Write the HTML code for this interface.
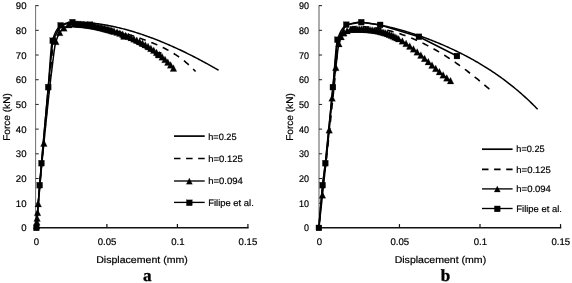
<!DOCTYPE html>
<html><head><meta charset="utf-8"><title>Force-displacement</title>
<style>
html,body{margin:0;padding:0;background:#fff;}
body{width:572px;height:283px;overflow:hidden;font-family:"Liberation Sans",sans-serif;}
svg{display:block;font-family:"Liberation Sans",sans-serif;will-change:transform;}
</style></head><body>
<svg width="572" height="283" viewBox="0 0 572 283" text-rendering="geometricPrecision">
<rect width="572" height="283" fill="#fff"/>
<path d="M35.60 5.15 V227.90" stroke="#707070" stroke-width="1.0" fill="none"/>
<g stroke="#222" stroke-width="1" fill="none">
<path d="M35.60 203.21 H38.70"/>
<path d="M35.60 178.51 H38.70"/>
<path d="M35.60 153.81 H38.70"/>
<path d="M35.60 129.12 H38.70"/>
<path d="M35.60 104.43 H38.70"/>
<path d="M35.60 79.73 H38.70"/>
<path d="M35.60 55.03 H38.70"/>
<path d="M35.60 30.34 H38.70"/>
<path d="M35.60 5.65 H38.70"/>
</g>
<g stroke="#111" fill="none">
<path d="M35.00 227.7 H248.60" stroke-width="1.6"/>
<path d="M106.90 227.7 V224.1" stroke-width="1.2"/>
<path d="M177.40 227.7 V224.1" stroke-width="1.2"/>
<path d="M247.90 227.7 V224.1" stroke-width="1.2"/>
</g>
<g fill="#000" stroke="#000" stroke-width="0.2">
<text transform="translate(26.50 231.40)" font-size="9.6" text-anchor="end">0</text>
<text transform="translate(26.50 206.71)" font-size="9.6" text-anchor="end">10</text>
<text transform="translate(26.50 182.01)" font-size="9.6" text-anchor="end">20</text>
<text transform="translate(26.50 157.31)" font-size="9.6" text-anchor="end">30</text>
<text transform="translate(26.50 132.62)" font-size="9.6" text-anchor="end">40</text>
<text transform="translate(26.50 107.93)" font-size="9.6" text-anchor="end">50</text>
<text transform="translate(26.50 83.23)" font-size="9.6" text-anchor="end">60</text>
<text transform="translate(26.50 58.53)" font-size="9.6" text-anchor="end">70</text>
<text transform="translate(26.50 33.84)" font-size="9.6" text-anchor="end">80</text>
<text transform="translate(26.50 9.15)" font-size="9.6" text-anchor="end">90</text>
<text transform="translate(36.40 244.90)" font-size="9.6" text-anchor="middle">0</text>
<text transform="translate(107.10 244.90)" font-size="9.6" text-anchor="middle">0.05</text>
<text transform="translate(177.80 244.90)" font-size="9.6" text-anchor="middle">0.1</text>
<text transform="translate(247.90 244.90)" font-size="9.6" text-anchor="middle">0.15</text>
<text transform="translate(142.00 263.10)" font-size="9.8" text-anchor="middle" textLength="91.5" lengthAdjust="spacingAndGlyphs">Displacement (mm)</text>
<text transform="translate(9.70 117.00) rotate(-90)" font-size="9.8" text-anchor="middle" textLength="47.6" lengthAdjust="spacingAndGlyphs">Force (kN)</text>
</g>
<text font-family="Liberation Serif, serif" font-weight="bold" font-size="17" fill="#000" stroke="#000" stroke-width="0.35" text-anchor="middle" x="147.2" y="280.7">a</text>
<path d="M36.40 227.90 L36.43 227.55 L36.48 226.84 L36.55 225.88 L36.63 224.70 L36.73 223.34 L36.84 221.81 L36.96 220.12 L37.10 218.29 L37.24 216.33 L37.40 214.25 L37.56 212.04 L37.74 209.73 L37.92 207.31 L38.11 204.80 L38.31 202.19 L38.52 199.49 L38.73 196.71 L38.96 193.85 L39.19 190.91 L39.43 187.90 L39.67 184.82 L39.92 181.69 L40.18 178.52 L40.45 175.30 L40.72 172.04 L41.00 168.73 L41.29 165.36 L41.58 161.94 L41.88 158.47 L42.19 154.95 L42.50 151.38 L42.82 147.77 L43.14 144.11 L43.47 140.40 L43.81 136.65 L44.15 132.84 L44.50 128.98 L44.85 125.06 L45.21 121.09 L45.57 117.06 L45.94 112.96 L46.32 108.79 L46.70 104.56 L47.08 100.25 L47.47 95.86 L47.87 91.38 L48.27 86.81 L48.68 81.80 L49.09 76.25 L49.51 70.37 L49.93 64.37 L50.36 58.50 L50.79 53.01 L51.23 48.20 L51.67 44.34 L52.11 41.75 L52.57 40.18 L53.02 38.73 L53.48 37.35 L53.95 36.05 L54.42 34.83 L54.89 33.70 L55.37 32.64 L55.86 31.65 L56.35 30.75 L56.84 29.92 L57.34 29.16 L57.84 28.47 L58.35 27.86 L58.86 27.31 L59.37 26.82 L59.89 26.40 L60.42 26.04 L60.95 25.72 L61.48 25.42 L62.02 25.12 L62.56 24.83 L63.10 24.55 L63.65 24.28 L64.21 24.02 L64.76 23.77 L65.33 23.53 L65.89 23.30 L66.46 23.09 L67.04 22.89 L67.62 22.71 L68.20 22.54 L68.79 22.39 L69.38 22.27 L69.97 22.16 L70.57 22.07 L71.17 22.00 L71.78 21.96 L72.39 21.94 L73.01 21.94 L73.63 21.95 L74.25 21.96 L74.87 21.96 L75.50 21.97 L76.14 21.98 L76.78 22.00 L77.42 22.01 L78.06 22.03 L78.71 22.06 L79.36 22.08 L80.02 22.11 L80.68 22.14 L81.34 22.17 L82.01 22.21 L82.68 22.25 L83.36 22.29 L84.04 22.33 L84.72 22.38 L85.41 22.43 L86.10 22.48 L86.79 22.53 L87.49 22.59 L88.19 22.65 L88.89 22.71 L89.60 22.78 L90.31 22.85 L91.02 22.93 L91.74 23.00 L92.46 23.08 L93.19 23.16 L93.92 23.25 L94.65 23.34 L95.38 23.43 L96.12 23.52 L96.87 23.62 L97.61 23.72 L98.36 23.83 L99.11 23.94 L99.87 24.05 L100.63 24.16 L101.39 24.28 L102.16 24.41 L102.93 24.53 L103.70 24.66 L104.48 24.79 L105.26 24.93 L106.04 25.07 L106.83 25.21 L107.62 25.36 L108.41 25.51 L109.21 25.66 L110.01 25.82 L110.81 25.98 L111.61 26.15 L112.42 26.32 L113.24 26.49 L114.05 26.67 L114.87 26.85 L115.69 27.03 L116.52 27.22 L117.35 27.41 L118.18 27.61 L119.01 27.80 L119.85 28.01 L120.69 28.22 L121.54 28.43 L122.39 28.64 L123.24 28.86 L124.09 29.08 L124.95 29.31 L125.81 29.54 L126.67 29.78 L127.54 30.02 L128.41 30.26 L129.28 30.51 L130.16 30.76 L131.03 31.02 L131.92 31.28 L132.80 31.54 L133.69 31.81 L134.58 32.08 L135.47 32.36 L136.37 32.64 L137.27 32.92 L138.17 33.21 L139.08 33.51 L139.99 33.80 L140.90 34.10 L141.82 34.41 L142.74 34.72 L143.66 35.04 L144.58 35.36 L145.51 35.68 L146.44 36.01 L147.37 36.34 L148.31 36.68 L149.25 37.02 L150.19 37.36 L151.13 37.71 L152.08 38.07 L153.03 38.42 L153.98 38.79 L154.94 39.15 L155.90 39.53 L156.86 39.90 L157.83 40.28 L158.80 40.67 L159.77 41.06 L160.74 41.45 L161.72 41.85 L162.70 42.25 L163.68 42.66 L164.66 43.07 L165.65 43.49 L166.64 43.91 L167.64 44.34 L168.63 44.77 L169.63 45.20 L170.63 45.64 L171.64 46.09 L172.65 46.54 L173.66 46.99 L174.67 47.45 L175.69 47.91 L176.71 48.38 L177.73 48.85 L178.75 49.32 L179.78 49.80 L180.81 50.29 L181.84 50.78 L182.88 51.28 L183.92 51.78 L184.96 52.28 L186.00 52.79 L187.05 53.30 L188.10 53.82 L189.15 54.34 L190.21 54.87 L191.26 55.40 L192.32 55.94 L193.39 56.48 L194.45 57.03 L195.52 57.58 L196.59 58.13 L197.66 58.70 L198.74 59.26 L199.82 59.83 L200.90 60.41 L201.99 60.99 L203.07 61.57 L204.16 62.16 L205.26 62.75 L206.35 63.35 L207.45 63.95 L208.55 64.56 L209.65 65.18 L210.76 65.79 L211.87 66.42 L212.98 67.04 L214.09 67.68 L215.21 68.31 L216.33 68.95 L217.45 69.60 L218.57 70.25" fill="none" stroke="#000" stroke-width="1.5" stroke-linejoin="round"/>
<path d="M36.40 227.90 L36.42 227.61 L36.47 227.04 L36.53 226.25 L36.60 225.29 L36.69 224.17 L36.79 222.92 L36.89 221.54 L37.01 220.04 L37.14 218.43 L37.27 216.71 L37.42 214.90 L37.57 213.00 L37.73 211.00 L37.89 208.93 L38.07 206.78 L38.25 204.55 L38.44 202.24 L38.63 199.87 L38.84 197.44 L39.04 194.94 L39.26 192.38 L39.48 189.76 L39.71 187.09 L39.94 184.36 L40.18 181.60 L40.42 178.81 L40.67 175.98 L40.93 173.12 L41.19 170.22 L41.46 167.28 L41.73 164.29 L42.01 161.26 L42.29 158.19 L42.58 155.06 L42.87 151.89 L43.17 148.68 L43.48 145.42 L43.78 142.12 L44.10 138.78 L44.42 135.40 L44.74 131.97 L45.07 128.51 L45.40 125.01 L45.74 121.48 L46.08 117.91 L46.42 114.30 L46.78 110.66 L47.13 106.99 L47.49 103.28 L47.85 99.54 L48.22 95.77 L48.60 91.97 L48.97 88.14 L49.36 84.19 L49.74 79.92 L50.13 75.41 L50.53 70.76 L50.93 66.06 L51.33 61.43 L51.73 56.98 L52.15 52.84 L52.56 49.12 L52.98 45.98 L53.40 43.54 L53.83 41.84 L54.26 40.30 L54.70 38.82 L55.13 37.43 L55.58 36.10 L56.02 34.85 L56.47 33.69 L56.93 32.60 L57.39 31.60 L57.85 30.68 L58.31 29.85 L58.78 29.11 L59.26 28.46 L59.73 27.91 L60.21 27.46 L60.70 27.10 L61.19 26.79 L61.68 26.48 L62.17 26.19 L62.67 25.90 L63.17 25.62 L63.68 25.36 L64.19 25.10 L64.70 24.85 L65.22 24.62 L65.74 24.40 L66.26 24.19 L66.79 23.99 L67.32 23.81 L67.85 23.64 L68.39 23.49 L68.93 23.36 L69.47 23.24 L70.02 23.14 L70.57 23.06 L71.12 23.00 L71.68 22.95 L72.24 22.93 L72.81 22.93 L73.37 22.94 L73.94 22.95 L74.52 22.96 L75.09 22.98 L75.67 23.00 L76.26 23.02 L76.84 23.05 L77.43 23.09 L78.03 23.13 L78.62 23.17 L79.22 23.22 L79.83 23.27 L80.43 23.32 L81.04 23.38 L81.65 23.45 L82.27 23.51 L82.89 23.58 L83.51 23.66 L84.13 23.74 L84.76 23.82 L85.39 23.91 L86.02 24.00 L86.66 24.09 L87.30 24.19 L87.94 24.30 L88.59 24.40 L89.24 24.51 L89.89 24.62 L90.54 24.74 L91.20 24.86 L91.86 24.98 L92.53 25.11 L93.19 25.24 L93.86 25.37 L94.54 25.51 L95.21 25.64 L95.89 25.79 L96.57 25.93 L97.25 26.08 L97.94 26.23 L98.63 26.39 L99.32 26.54 L100.02 26.70 L100.72 26.87 L101.42 27.03 L102.13 27.20 L102.83 27.37 L103.54 27.55 L104.26 27.72 L104.97 27.90 L105.69 28.08 L106.41 28.27 L107.13 28.45 L107.86 28.64 L108.59 28.83 L109.32 29.03 L110.06 29.22 L110.80 29.42 L111.54 29.62 L112.28 29.82 L113.03 30.02 L113.78 30.23 L114.53 30.44 L115.28 30.65 L116.04 30.86 L116.80 31.08 L117.56 31.29 L118.33 31.51 L119.09 31.73 L119.87 31.96 L120.64 32.18 L121.41 32.41 L122.19 32.64 L122.97 32.87 L123.76 33.10 L124.55 33.34 L125.33 33.58 L126.13 33.82 L126.92 34.06 L127.72 34.30 L128.52 34.55 L129.32 34.80 L130.12 35.05 L130.93 35.30 L131.74 35.56 L132.56 35.82 L133.37 36.08 L134.19 36.34 L135.01 36.61 L135.83 36.88 L136.66 37.15 L137.49 37.42 L138.32 37.70 L139.15 37.98 L139.99 38.27 L140.82 38.56 L141.66 38.85 L142.51 39.14 L143.35 39.44 L144.20 39.74 L145.05 40.05 L145.91 40.36 L146.76 40.68 L147.62 41.00 L148.48 41.32 L149.35 41.65 L150.21 41.99 L151.08 42.33 L151.95 42.68 L152.82 43.03 L153.70 43.39 L154.58 43.75 L155.46 44.12 L156.34 44.50 L157.23 44.89 L158.11 45.28 L159.01 45.68 L159.90 46.09 L160.79 46.50 L161.69 46.93 L162.59 47.36 L163.49 47.80 L164.40 48.26 L165.31 48.72 L166.22 49.19 L167.13 49.67 L168.04 50.17 L168.96 50.67 L169.88 51.19 L170.80 51.72 L171.73 52.26 L172.65 52.82 L173.58 53.39 L174.51 53.97 L175.45 54.57 L176.38 55.18 L177.32 55.81 L178.26 56.46 L179.20 57.12 L180.15 57.80 L181.10 58.50 L182.05 59.21 L183.00 59.95 L183.95 60.70 L184.91 61.48 L185.87 62.27 L186.83 63.09 L187.79 63.93 L188.76 64.79 L189.73 65.68 L190.70 66.59 L191.67 67.52 L192.65 68.49 L193.63 69.47 L194.61 70.49 L195.59 71.54" fill="none" stroke="#000" stroke-width="1.6" stroke-dasharray="6.5 6.0" stroke-dashoffset="2.40" stroke-linejoin="round"/>
<path d="M36.40 227.90 L36.42 227.64 L36.46 227.12 L36.51 226.41 L36.57 225.54 L36.65 224.52 L36.73 223.39 L36.82 222.13 L36.93 220.76 L37.03 219.30 L37.15 217.74 L37.27 216.10 L37.41 214.37 L37.54 212.58 L37.69 210.73 L37.84 208.82 L37.99 206.87 L38.16 204.88 L38.32 202.87 L38.50 200.80 L38.68 198.69 L38.86 196.54 L39.05 194.34 L39.25 192.10 L39.45 189.83 L39.65 187.51 L39.86 185.17 L40.08 182.78 L40.30 180.37 L40.53 177.93 L40.76 175.46 L40.99 172.95 L41.23 170.42 L41.47 167.86 L41.72 165.28 L41.97 162.66 L42.23 160.02 L42.49 157.35 L42.76 154.65 L43.03 151.93 L43.30 149.17 L43.58 146.38 L43.86 143.56 L44.15 140.71 L44.44 137.81 L44.73 134.88 L45.03 131.92 L45.33 128.93 L45.64 125.90 L45.95 122.86 L46.26 119.79 L46.58 116.69 L46.90 113.59 L47.23 110.46 L47.55 107.33 L47.89 104.19 L48.22 101.04 L48.56 97.90 L48.91 94.75 L49.25 91.62 L49.60 88.50 L49.96 85.39 L50.31 82.31 L50.67 79.25 L51.04 76.22 L51.41 73.23 L51.78 70.28 L52.15 67.27 L52.53 64.14 L52.91 60.95 L53.30 57.76 L53.68 54.63 L54.07 51.62 L54.47 48.82 L54.87 46.29 L55.27 44.10 L55.67 42.34 L56.08 41.02 L56.49 39.81 L56.90 38.67 L57.32 37.59 L57.74 36.57 L58.16 35.61 L58.59 34.71 L59.02 33.88 L59.45 33.11 L59.89 32.39 L60.32 31.74 L60.77 31.14 L61.21 30.60 L61.66 30.11 L62.11 29.68 L62.56 29.29 L63.02 28.90 L63.48 28.52 L63.94 28.15 L64.41 27.78 L64.87 27.42 L65.34 27.08 L65.82 26.74 L66.30 26.42 L66.78 26.11 L67.26 25.82 L67.74 25.55 L68.23 25.30 L68.72 25.06 L69.22 24.85 L69.71 24.67 L70.21 24.51 L70.72 24.38 L71.22 24.28 L71.73 24.21 L72.24 24.17 L72.75 24.17 L73.27 24.17 L73.79 24.18 L74.31 24.19 L74.83 24.20 L75.36 24.21 L75.89 24.23 L76.42 24.25 L76.96 24.28 L77.49 24.31 L78.03 24.33 L78.58 24.37 L79.12 24.41 L79.67 24.45 L80.22 24.49 L80.78 24.53 L81.33 24.58 L81.89 24.64 L82.45 24.69 L83.01 24.75 L83.58 24.81 L84.15 24.88 L84.72 24.94 L85.30 25.01 L85.87 25.09 L86.45 25.16 L87.03 25.24 L87.62 25.33 L88.20 25.41 L88.79 25.50 L89.38 25.59 L89.98 25.69 L90.57 25.79 L91.17 25.89 L91.77 25.99 L92.38 26.10 L92.99 26.21 L93.59 26.32 L94.21 26.44 L94.82 26.56 L95.44 26.68 L96.05 26.80 L96.67 26.93 L97.30 27.06 L97.92 27.20 L98.55 27.33 L99.18 27.47 L99.82 27.62 L100.45 27.76 L101.09 27.91 L101.73 28.06 L102.37 28.22 L103.02 28.38 L103.66 28.54 L104.31 28.70 L104.96 28.87 L105.62 29.04 L106.28 29.22 L106.93 29.40 L107.60 29.58 L108.26 29.76 L108.92 29.95 L109.59 30.14 L110.26 30.33 L110.94 30.53 L111.61 30.73 L112.29 30.94 L112.97 31.15 L113.65 31.36 L114.33 31.57 L115.02 31.79 L115.71 32.01 L116.40 32.24 L117.09 32.47 L117.79 32.70 L118.48 32.94 L119.18 33.18 L119.89 33.43 L120.59 33.68 L121.30 33.94 L122.00 34.19 L122.72 34.46 L123.43 34.73 L124.14 35.00 L124.86 35.27 L125.58 35.56 L126.30 35.84 L127.03 36.13 L127.75 36.43 L128.48 36.73 L129.21 37.04 L129.94 37.35 L130.68 37.67 L131.42 37.99 L132.15 38.32 L132.90 38.65 L133.64 38.99 L134.38 39.34 L135.13 39.69 L135.88 40.05 L136.63 40.42 L137.39 40.79 L138.14 41.17 L138.90 41.56 L139.66 41.95 L140.42 42.35 L141.19 42.76 L141.96 43.18 L142.72 43.61 L143.50 44.04 L144.27 44.48 L145.04 44.93 L145.82 45.39 L146.60 45.86 L147.38 46.34 L148.16 46.83 L148.95 47.32 L149.74 47.83 L150.53 48.35 L151.32 48.88 L152.11 49.42 L152.91 49.97 L153.70 50.53 L154.50 51.10 L155.31 51.69 L156.11 52.29 L156.92 52.90 L157.72 53.52 L158.53 54.16 L159.34 54.81 L160.16 55.48 L160.97 56.16 L161.79 56.85 L162.61 57.56 L163.43 58.29 L164.26 59.03 L165.08 59.78 L165.91 60.56 L166.74 61.35 L167.57 62.16 L168.41 62.98 L169.24 63.83 L170.08 64.69 L170.92 65.58 L171.76 66.48 L172.61 67.40 L173.45 68.35" fill="none" stroke="#000" stroke-width="1.5" stroke-linejoin="round"/>
<g fill="#000" stroke="#000" stroke-width="0.2">
<path d="M36.54 222.33 L39.89 229.03 L33.19 229.03Z"/>
<path d="M36.82 218.50 L40.17 225.20 L33.47 225.20Z"/>
<path d="M37.10 214.70 L40.45 221.40 L33.75 221.40Z"/>
<path d="M37.53 209.12 L40.88 215.82 L34.18 215.82Z"/>
<path d="M38.23 200.30 L41.58 207.00 L34.88 207.00Z"/>
<path d="M43.87 139.79 L47.22 146.49 L40.52 146.49Z"/>
<path d="M55.86 38.05 L59.21 44.75 L52.51 44.75Z"/>
<path d="M59.66 29.09 L63.02 35.79 L56.31 35.79Z"/>
<path d="M63.89 24.53 L67.24 31.23 L60.54 31.23Z"/>
<path d="M68.83 21.37 L72.18 28.07 L65.48 28.07Z"/>
<path d="M73.76 20.53 L77.11 27.23 L70.41 27.23Z"/>
<path d="M173.45 64.70 L176.80 71.40 L170.10 71.40Z"/>
<path d="M170.63 61.62 L173.98 68.32 L167.28 68.32Z"/>
<path d="M167.81 58.74 L171.16 65.44 L164.46 65.44Z"/>
<path d="M164.99 56.05 L168.34 62.75 L161.64 62.75Z"/>
<path d="M162.17 53.53 L165.52 60.23 L158.82 60.23Z"/>
<path d="M159.35 51.17 L162.70 57.87 L156.00 57.87Z"/>
<path d="M156.53 48.96 L159.88 55.66 L153.18 55.66Z"/>
<path d="M153.71 46.89 L157.06 53.59 L150.36 53.59Z"/>
<path d="M150.89 44.94 L154.24 51.64 L147.54 51.64Z"/>
<path d="M148.07 43.12 L151.42 49.82 L144.72 49.82Z"/>
<path d="M145.25 41.41 L148.60 48.11 L141.90 48.11Z"/>
<path d="M142.43 39.79 L145.78 46.49 L139.08 46.49Z"/>
<path d="M139.61 38.28 L142.96 44.98 L136.26 44.98Z"/>
<path d="M136.79 36.85 L140.14 43.55 L133.44 43.55Z"/>
<path d="M133.97 35.50 L137.32 42.20 L130.62 42.20Z"/>
<path d="M131.15 34.22 L134.50 40.92 L127.80 40.92Z"/>
<path d="M128.33 33.02 L131.68 39.72 L124.98 39.72Z"/>
<path d="M125.51 31.88 L128.86 38.58 L122.16 38.58Z"/>
<path d="M122.69 30.80 L126.04 37.50 L119.34 37.50Z"/>
<path d="M119.87 29.78 L123.22 36.48 L116.52 36.48Z"/>
<path d="M117.05 28.81 L120.40 35.51 L113.70 35.51Z"/>
<path d="M114.23 27.89 L117.58 34.59 L110.88 34.59Z"/>
<path d="M112.82 27.45 L116.17 34.15 L109.47 34.15Z"/>
<path d="M111.41 27.02 L114.76 33.72 L108.06 33.72Z"/>
<path d="M110.00 26.61 L113.35 33.31 L106.65 33.31Z"/>
<path d="M108.59 26.21 L111.94 32.91 L105.24 32.91Z"/>
<path d="M107.18 25.81 L110.53 32.51 L103.83 32.51Z"/>
<path d="M105.77 25.43 L109.12 32.13 L102.42 32.13Z"/>
<path d="M104.36 25.07 L107.71 31.77 L101.01 31.77Z"/>
<path d="M102.95 24.71 L106.30 31.41 L99.60 31.41Z"/>
<path d="M101.54 24.37 L104.89 31.07 L98.19 31.07Z"/>
<path d="M100.13 24.04 L103.48 30.74 L96.78 30.74Z"/>
<path d="M98.72 23.72 L102.07 30.42 L95.37 30.42Z"/>
<path d="M97.31 23.41 L100.66 30.11 L93.96 30.11Z"/>
<path d="M95.90 23.12 L99.25 29.82 L92.55 29.82Z"/>
<path d="M94.49 22.84 L97.84 29.54 L91.14 29.54Z"/>
<path d="M93.08 22.58 L96.43 29.28 L89.73 29.28Z"/>
<path d="M91.67 22.32 L95.02 29.02 L88.32 29.02Z"/>
<path d="M90.26 22.08 L93.61 28.78 L86.91 28.78Z"/>
<path d="M88.85 21.86 L92.20 28.56 L85.50 28.56Z"/>
<path d="M87.44 21.65 L90.79 28.35 L84.09 28.35Z"/>
<path d="M86.03 21.46 L89.38 28.16 L82.68 28.16Z"/>
<path d="M84.62 21.28 L87.97 27.98 L81.27 27.98Z"/>
<path d="M83.21 21.12 L86.56 27.82 L79.86 27.82Z"/>
<path d="M81.80 20.98 L85.15 27.68 L78.45 27.68Z"/>
<path d="M80.39 20.85 L83.74 27.55 L77.04 27.55Z"/>
<path d="M78.98 20.75 L82.33 27.45 L75.63 27.45Z"/>
<path d="M77.57 20.66 L80.92 27.36 L74.22 27.36Z"/>
<path d="M76.16 20.59 L79.51 27.29 L72.81 27.29Z"/>
</g>
<path d="M36.40 227.90 L39.64 185.18 L41.48 163.20 L48.24 87.14 L52.76 40.71 L60.65 25.40 L72.50 22.19 L89.98 24.66 L123.82 36.51 L158.36 55.03" fill="none" stroke="#000" stroke-width="1.5" stroke-linejoin="round"/>
<g fill="#000" stroke="#000" stroke-width="0.2">
<rect x="33.45" y="224.95" width="5.9" height="5.9"/>
<rect x="36.69" y="182.23" width="5.9" height="5.9"/>
<rect x="38.53" y="160.25" width="5.9" height="5.9"/>
<rect x="45.29" y="84.19" width="5.9" height="5.9"/>
<rect x="49.81" y="37.76" width="5.9" height="5.9"/>
<rect x="57.70" y="22.45" width="5.9" height="5.9"/>
<rect x="69.55" y="19.24" width="5.9" height="5.9"/>
<rect x="87.03" y="21.71" width="5.9" height="5.9"/>
<rect x="120.87" y="33.56" width="5.9" height="5.9"/>
<rect x="155.41" y="52.08" width="5.9" height="5.9"/>
</g>
<path d="M174 136.1 H204.7" stroke="#000" stroke-width="1.7"/>
<g fill="#000" stroke="#000" stroke-width="0.2"><text transform="translate(208.20 140.00)" font-size="9.3" textLength="28.3" lengthAdjust="spacingAndGlyphs">h=0.25</text></g>
<path d="M174 158.5 H204.7" stroke="#000" stroke-width="1.7" stroke-dasharray="6.5 5.6"/>
<g fill="#000" stroke="#000" stroke-width="0.2"><text transform="translate(208.20 161.90)" font-size="9.3" textLength="34.6" lengthAdjust="spacingAndGlyphs">h=0.125</text></g>
<path d="M174 181 H204.7" stroke="#000" stroke-width="1.35"/>
<g fill="#000" stroke="#000" stroke-width="0.2"><path d="M189.35 178.00 L192.45 184.20 L186.25 184.20Z"/></g>
<g fill="#000" stroke="#000" stroke-width="0.2"><text transform="translate(208.20 183.80)" font-size="9.3" textLength="34.6" lengthAdjust="spacingAndGlyphs">h=0.094</text></g>
<path d="M174 202.4 H204.7" stroke="#000" stroke-width="1.35"/>
<g fill="#000" stroke="#000" stroke-width="0.2"><rect x="186.40" y="199.85" width="5.9" height="5.9"/></g>
<g fill="#000" stroke="#000" stroke-width="0.2"><text transform="translate(208.20 205.80)" font-size="9.3" textLength="45.6" lengthAdjust="spacingAndGlyphs">Filipe et al.</text></g>
<path d="M319.00 5.15 V227.90" stroke="#979797" stroke-width="1.6" fill="none"/>
<g stroke="#222" stroke-width="1" fill="none">
<path d="M319.00 203.21 H322.10"/>
<path d="M319.00 178.51 H322.10"/>
<path d="M319.00 153.81 H322.10"/>
<path d="M319.00 129.12 H322.10"/>
<path d="M319.00 104.43 H322.10"/>
<path d="M319.00 79.73 H322.10"/>
<path d="M319.00 55.03 H322.10"/>
<path d="M319.00 30.34 H322.10"/>
<path d="M319.00 5.65 H322.10"/>
</g>
<g stroke="#111" fill="none">
<path d="M318.40 227.7 H561.25" stroke-width="1.6"/>
<path d="M399.45 227.7 V224.1" stroke-width="1.2"/>
<path d="M480.00 227.7 V224.1" stroke-width="1.2"/>
<path d="M560.55 227.7 V224.1" stroke-width="1.2"/>
</g>
<g fill="#000" stroke="#000" stroke-width="0.2">
<text transform="translate(308.90 231.40)" font-size="9.6" text-anchor="end" textLength="5.0" lengthAdjust="spacingAndGlyphs">0</text>
<text transform="translate(308.90 206.71)" font-size="9.6" text-anchor="end" textLength="10.0" lengthAdjust="spacingAndGlyphs">10</text>
<text transform="translate(308.90 182.01)" font-size="9.6" text-anchor="end" textLength="10.0" lengthAdjust="spacingAndGlyphs">20</text>
<text transform="translate(308.90 157.31)" font-size="9.6" text-anchor="end" textLength="10.0" lengthAdjust="spacingAndGlyphs">30</text>
<text transform="translate(308.90 132.62)" font-size="9.6" text-anchor="end" textLength="10.0" lengthAdjust="spacingAndGlyphs">40</text>
<text transform="translate(308.90 107.93)" font-size="9.6" text-anchor="end" textLength="10.0" lengthAdjust="spacingAndGlyphs">50</text>
<text transform="translate(308.90 83.23)" font-size="9.6" text-anchor="end" textLength="10.0" lengthAdjust="spacingAndGlyphs">60</text>
<text transform="translate(308.90 58.53)" font-size="9.6" text-anchor="end" textLength="10.0" lengthAdjust="spacingAndGlyphs">70</text>
<text transform="translate(308.90 33.84)" font-size="9.6" text-anchor="end" textLength="10.0" lengthAdjust="spacingAndGlyphs">80</text>
<text transform="translate(308.90 9.15)" font-size="9.6" text-anchor="end" textLength="10.0" lengthAdjust="spacingAndGlyphs">90</text>
<text transform="translate(319.30 244.90)" font-size="9.6" text-anchor="middle">0</text>
<text transform="translate(399.75 244.90)" font-size="9.6" text-anchor="middle">0.05</text>
<text transform="translate(480.30 244.90)" font-size="9.6" text-anchor="middle">0.1</text>
<text transform="translate(560.75 244.90)" font-size="9.6" text-anchor="middle">0.15</text>
<text transform="translate(440.40 263.10)" font-size="9.8" text-anchor="middle" textLength="91.5" lengthAdjust="spacingAndGlyphs">Displacement (mm)</text>
<text transform="translate(292.50 117.00) rotate(-90)" font-size="9.8" text-anchor="middle" textLength="47.6" lengthAdjust="spacingAndGlyphs">Force (kN)</text>
</g>
<text font-family="Liberation Serif, serif" font-weight="bold" font-size="17" fill="#000" stroke="#000" stroke-width="0.35" text-anchor="middle" x="445.4" y="281.1">b</text>
<path d="M318.90 227.90 L318.93 227.49 L318.99 226.67 L319.07 225.55 L319.18 224.19 L319.30 222.62 L319.43 220.87 L319.58 218.96 L319.74 216.90 L319.91 214.71 L320.10 212.41 L320.30 210.00 L320.50 207.51 L320.72 204.94 L320.95 202.31 L321.19 199.62 L321.44 196.90 L321.70 194.15 L321.97 191.38 L322.25 188.61 L322.53 185.85 L322.83 183.14 L323.13 180.54 L323.44 178.03 L323.76 175.56 L324.09 173.09 L324.43 170.57 L324.77 167.92 L325.13 165.07 L325.48 161.96 L325.85 158.67 L326.23 155.24 L326.61 151.66 L327.00 147.95 L327.39 144.10 L327.80 140.13 L328.21 136.02 L328.62 131.80 L329.05 127.46 L329.48 123.01 L329.92 118.46 L330.36 113.82 L330.81 109.10 L331.27 104.31 L331.73 99.45 L332.20 94.55 L332.68 89.61 L333.16 84.54 L333.65 78.82 L334.14 72.58 L334.64 66.09 L335.15 59.62 L335.66 53.48 L336.18 48.00 L336.71 43.53 L337.24 40.42 L337.77 38.69 L338.31 37.17 L338.86 35.73 L339.42 34.39 L339.97 33.13 L340.54 31.97 L341.11 30.90 L341.69 29.92 L342.27 29.04 L342.85 28.24 L343.45 27.53 L344.04 26.92 L344.65 26.39 L345.26 25.95 L345.87 25.59 L346.49 25.32 L347.11 25.07 L347.74 24.82 L348.38 24.58 L349.02 24.36 L349.66 24.14 L350.31 23.92 L350.97 23.72 L351.63 23.53 L352.29 23.35 L352.96 23.18 L353.64 23.02 L354.32 22.87 L355.00 22.74 L355.69 22.62 L356.39 22.51 L357.09 22.42 L357.79 22.34 L358.50 22.28 L359.22 22.23 L359.94 22.20 L360.66 22.19 L361.39 22.21 L362.12 22.26 L362.86 22.35 L363.60 22.45 L364.35 22.56 L365.10 22.67 L365.86 22.76 L366.62 22.86 L367.39 22.96 L368.16 23.07 L368.93 23.18 L369.71 23.29 L370.50 23.41 L371.28 23.53 L372.08 23.65 L372.88 23.78 L373.68 23.91 L374.48 24.04 L375.29 24.18 L376.11 24.32 L376.93 24.47 L377.75 24.62 L378.58 24.78 L379.41 24.93 L380.25 25.10 L381.09 25.26 L381.94 25.43 L382.79 25.61 L383.64 25.79 L384.50 25.97 L385.36 26.15 L386.23 26.35 L387.10 26.54 L387.97 26.74 L388.85 26.94 L389.74 27.15 L390.62 27.36 L391.51 27.57 L392.41 27.79 L393.31 28.02 L394.21 28.25 L395.12 28.48 L396.03 28.72 L396.95 28.96 L397.87 29.20 L398.80 29.45 L399.72 29.70 L400.66 29.96 L401.59 30.23 L402.53 30.49 L403.48 30.76 L404.43 31.04 L405.38 31.32 L406.33 31.61 L407.29 31.90 L408.26 32.19 L409.23 32.49 L410.20 32.79 L411.17 33.10 L412.15 33.41 L413.14 33.73 L414.12 34.05 L415.12 34.38 L416.11 34.71 L417.11 35.05 L418.11 35.39 L419.12 35.73 L420.13 36.08 L421.14 36.44 L422.16 36.80 L423.18 37.17 L424.21 37.54 L425.24 37.91 L426.27 38.29 L427.31 38.68 L428.35 39.07 L429.39 39.47 L430.44 39.87 L431.49 40.28 L432.55 40.69 L433.61 41.11 L434.67 41.53 L435.74 41.96 L436.81 42.39 L437.88 42.83 L438.96 43.28 L440.04 43.73 L441.12 44.19 L442.21 44.65 L443.30 45.12 L444.40 45.60 L445.50 46.08 L446.60 46.57 L447.71 47.06 L448.82 47.56 L449.93 48.07 L451.05 48.58 L452.17 49.10 L453.29 49.63 L454.42 50.16 L455.55 50.70 L456.68 51.25 L457.82 51.81 L458.96 52.37 L460.11 52.94 L461.26 53.51 L462.41 54.10 L463.57 54.69 L464.72 55.29 L465.89 55.90 L467.05 56.51 L468.22 57.13 L469.39 57.76 L470.57 58.40 L471.75 59.05 L472.93 59.71 L474.12 60.37 L475.31 61.05 L476.50 61.73 L477.70 62.43 L478.90 63.13 L480.10 63.84 L481.31 64.56 L482.52 65.29 L483.74 66.03 L484.95 66.79 L486.17 67.55 L487.40 68.32 L488.62 69.10 L489.85 69.90 L491.09 70.71 L492.33 71.52 L493.57 72.35 L494.81 73.19 L496.06 74.05 L497.31 74.91 L498.56 75.79 L499.82 76.68 L501.08 77.58 L502.34 78.50 L503.61 79.43 L504.88 80.37 L506.15 81.33 L507.43 82.30 L508.71 83.29 L509.99 84.29 L511.28 85.31 L512.57 86.34 L513.86 87.39 L515.15 88.46 L516.45 89.54 L517.76 90.63 L519.06 91.75 L520.37 92.88 L521.68 94.03 L523.00 95.20 L524.32 96.38 L525.64 97.59 L526.96 98.81 L528.29 100.05 L529.62 101.32 L530.96 102.60 L532.29 103.90 L533.63 105.23 L534.98 106.58 L536.32 107.94 L537.67 109.33" fill="none" stroke="#000" stroke-width="1.5" stroke-linejoin="round"/>
<path d="M318.90 227.90 L318.92 227.61 L318.97 227.01 L319.04 226.20 L319.12 225.22 L319.21 224.08 L319.31 222.80 L319.43 221.40 L319.55 219.89 L319.69 218.28 L319.83 216.57 L319.99 214.78 L320.15 212.91 L320.32 210.98 L320.50 208.98 L320.69 206.92 L320.88 204.82 L321.08 202.68 L321.29 200.50 L321.51 198.29 L321.73 196.06 L321.96 193.81 L322.20 191.55 L322.44 189.29 L322.69 187.04 L322.95 184.80 L323.21 182.61 L323.48 180.50 L323.75 178.45 L324.03 176.43 L324.32 174.43 L324.61 172.40 L324.91 170.33 L325.21 168.17 L325.52 165.88 L325.83 163.43 L326.15 160.81 L326.48 158.09 L326.81 155.26 L327.14 152.34 L327.48 149.32 L327.83 146.21 L328.18 143.00 L328.53 139.71 L328.90 136.33 L329.26 132.87 L329.63 129.34 L330.01 125.73 L330.39 122.06 L330.77 118.33 L331.16 114.55 L331.56 110.73 L331.96 106.86 L332.36 102.96 L332.77 99.05 L333.19 95.11 L333.60 91.18 L334.03 87.25 L334.45 83.11 L334.88 78.60 L335.32 73.83 L335.76 68.90 L336.20 63.94 L336.65 59.08 L337.10 54.47 L337.56 50.24 L338.02 46.56 L338.49 43.57 L338.96 41.46 L339.43 40.03 L339.91 38.67 L340.39 37.38 L340.88 36.17 L341.37 35.03 L341.87 33.97 L342.36 32.99 L342.87 32.10 L343.37 31.30 L343.88 30.59 L344.40 29.97 L344.92 29.46 L345.44 29.04 L345.96 28.74 L346.49 28.54 L347.03 28.37 L347.57 28.20 L348.11 28.04 L348.65 27.89 L349.20 27.74 L349.76 27.60 L350.31 27.47 L350.87 27.35 L351.44 27.24 L352.00 27.13 L352.57 27.04 L353.15 26.95 L353.73 26.87 L354.31 26.81 L354.90 26.75 L355.49 26.71 L356.08 26.67 L356.68 26.65 L357.28 26.64 L357.88 26.64 L358.49 26.64 L359.10 26.65 L359.71 26.66 L360.33 26.67 L360.95 26.68 L361.58 26.70 L362.20 26.72 L362.84 26.75 L363.47 26.78 L364.11 26.81 L364.75 26.85 L365.40 26.89 L366.04 26.93 L366.70 26.98 L367.35 27.03 L368.01 27.09 L368.67 27.14 L369.34 27.21 L370.01 27.27 L370.68 27.34 L371.35 27.42 L372.03 27.49 L372.71 27.58 L373.40 27.66 L374.09 27.75 L374.78 27.85 L375.47 27.95 L376.17 28.05 L376.87 28.16 L377.58 28.27 L378.28 28.39 L378.99 28.51 L379.71 28.63 L380.43 28.76 L381.15 28.90 L381.87 29.04 L382.60 29.18 L383.32 29.33 L384.06 29.48 L384.79 29.64 L385.53 29.80 L386.27 29.97 L387.02 30.14 L387.77 30.32 L388.52 30.50 L389.27 30.69 L390.03 30.88 L390.79 31.08 L391.55 31.28 L392.32 31.49 L393.09 31.70 L393.86 31.92 L394.64 32.14 L395.41 32.37 L396.20 32.61 L396.98 32.85 L397.77 33.09 L398.56 33.34 L399.35 33.60 L400.15 33.86 L400.94 34.13 L401.75 34.40 L402.55 34.68 L403.36 34.96 L404.17 35.25 L404.98 35.55 L405.80 35.85 L406.62 36.16 L407.44 36.47 L408.27 36.79 L409.09 37.11 L409.93 37.44 L410.76 37.78 L411.60 38.12 L412.43 38.47 L413.28 38.83 L414.12 39.19 L414.97 39.56 L415.82 39.93 L416.67 40.31 L417.53 40.69 L418.39 41.09 L419.25 41.48 L420.12 41.89 L420.98 42.30 L421.85 42.72 L422.73 43.14 L423.60 43.57 L424.48 44.01 L425.36 44.45 L426.25 44.90 L427.13 45.36 L428.02 45.82 L428.91 46.29 L429.81 46.76 L430.71 47.25 L431.61 47.74 L432.51 48.23 L433.42 48.73 L434.32 49.24 L435.23 49.76 L436.15 50.28 L437.07 50.81 L437.98 51.35 L438.91 51.89 L439.83 52.44 L440.76 53.00 L441.69 53.57 L442.62 54.14 L443.55 54.71 L444.49 55.30 L445.43 55.89 L446.38 56.49 L447.32 57.10 L448.27 57.71 L449.22 58.33 L450.17 58.96 L451.13 59.59 L452.09 60.23 L453.05 60.88 L454.01 61.54 L454.98 62.20 L455.95 62.87 L456.92 63.55 L457.89 64.24 L458.87 64.93 L459.85 65.63 L460.83 66.34 L461.82 67.05 L462.80 67.77 L463.79 68.50 L464.78 69.24 L465.78 69.98 L466.78 70.73 L467.78 71.49 L468.78 72.25 L469.78 73.03 L470.79 73.81 L471.80 74.60 L472.81 75.39 L473.83 76.19 L474.84 77.01 L475.86 77.82 L476.89 78.65 L477.91 79.48 L478.94 80.32 L479.97 81.17 L481.00 82.03 L482.03 82.89 L483.07 83.76 L484.11 84.64 L485.15 85.52 L486.20 86.42 L487.24 87.32 L488.29 88.22 L489.34 89.14" fill="none" stroke="#000" stroke-width="1.6" stroke-dasharray="6.5 6.0" stroke-dashoffset="5.81" stroke-linejoin="round"/>
<path d="M318.90 227.90 L318.92 227.74 L318.95 227.40 L319.01 226.95 L319.07 226.39 L319.14 225.75 L319.22 225.02 L319.31 224.21 L319.40 223.33 L319.51 222.38 L319.62 221.36 L319.74 220.28 L319.87 219.13 L320.00 217.93 L320.14 216.67 L320.28 215.35 L320.43 213.98 L320.59 212.55 L320.75 211.06 L320.91 209.53 L321.09 207.94 L321.26 206.30 L321.45 204.61 L321.63 202.87 L321.83 201.08 L322.02 199.23 L322.23 197.34 L322.43 195.40 L322.65 193.42 L322.86 191.39 L323.08 189.32 L323.31 187.21 L323.54 185.07 L323.77 182.88 L324.01 180.65 L324.25 178.38 L324.50 176.06 L324.75 173.71 L325.01 171.31 L325.26 168.86 L325.53 166.37 L325.79 163.84 L326.07 161.25 L326.34 158.62 L326.62 155.94 L326.90 153.20 L327.19 150.42 L327.48 147.57 L327.77 144.67 L328.07 141.71 L328.37 138.68 L328.68 135.60 L328.98 132.44 L329.30 129.21 L329.61 125.81 L329.93 122.24 L330.25 118.55 L330.58 114.79 L330.91 111.01 L331.24 107.26 L331.58 103.61 L331.92 100.11 L332.26 96.83 L332.61 93.66 L332.96 90.59 L333.31 87.58 L333.67 84.64 L334.03 81.73 L334.39 78.85 L334.76 75.97 L335.13 73.08 L335.50 70.15 L335.87 67.16 L336.25 63.96 L336.63 60.55 L337.02 57.06 L337.41 53.64 L337.80 50.42 L338.19 47.56 L338.59 45.20 L338.99 43.50 L339.39 42.04 L339.80 40.67 L340.21 39.40 L340.62 38.23 L341.04 37.16 L341.45 36.21 L341.88 35.38 L342.30 34.69 L342.73 34.13 L343.16 33.72 L343.59 33.36 L344.02 33.01 L344.46 32.68 L344.90 32.35 L345.35 32.04 L345.80 31.74 L346.24 31.46 L346.70 31.18 L347.15 30.93 L347.61 30.69 L348.07 30.47 L348.53 30.26 L349.00 30.08 L349.47 29.91 L349.94 29.76 L350.42 29.64 L350.89 29.53 L351.37 29.45 L351.85 29.39 L352.34 29.36 L352.83 29.35 L353.32 29.35 L353.81 29.36 L354.31 29.36 L354.80 29.37 L355.31 29.38 L355.81 29.38 L356.32 29.38 L356.82 29.39 L357.34 29.39 L357.85 29.40 L358.37 29.41 L358.88 29.42 L359.41 29.42 L359.93 29.43 L360.46 29.44 L360.98 29.46 L361.52 29.47 L362.05 29.49 L362.59 29.50 L363.13 29.52 L363.67 29.55 L364.21 29.57 L364.76 29.60 L365.31 29.62 L365.86 29.66 L366.41 29.69 L366.97 29.73 L367.53 29.77 L368.09 29.81 L368.65 29.86 L369.22 29.91 L369.78 29.96 L370.35 30.02 L370.93 30.08 L371.50 30.15 L372.08 30.22 L372.66 30.30 L373.24 30.38 L373.83 30.46 L374.41 30.55 L375.00 30.65 L375.59 30.75 L376.19 30.85 L376.79 30.96 L377.38 31.08 L377.99 31.20 L378.59 31.33 L379.19 31.46 L379.80 31.61 L380.41 31.75 L381.02 31.90 L381.64 32.07 L382.26 32.23 L382.88 32.41 L383.50 32.59 L384.12 32.77 L384.75 32.97 L385.37 33.17 L386.01 33.38 L386.64 33.60 L387.27 33.83 L387.91 34.06 L388.55 34.30 L389.19 34.55 L389.83 34.81 L390.48 35.07 L391.13 35.35 L391.78 35.63 L392.43 35.92 L393.09 36.22 L393.74 36.53 L394.40 36.85 L395.06 37.17 L395.73 37.51 L396.39 37.85 L397.06 38.20 L397.73 38.57 L398.40 38.94 L399.08 39.32 L399.75 39.71 L400.43 40.10 L401.11 40.51 L401.79 40.93 L402.48 41.35 L403.17 41.79 L403.85 42.23 L404.55 42.69 L405.24 43.15 L405.93 43.62 L406.63 44.10 L407.33 44.59 L408.03 45.09 L408.74 45.60 L409.44 46.11 L410.15 46.64 L410.86 47.17 L411.57 47.71 L412.28 48.26 L413.00 48.82 L413.72 49.39 L414.44 49.96 L415.16 50.55 L415.88 51.14 L416.61 51.74 L417.34 52.34 L418.07 52.96 L418.80 53.58 L419.53 54.20 L420.27 54.84 L421.01 55.48 L421.75 56.12 L422.49 56.78 L423.24 57.43 L423.98 58.10 L424.73 58.76 L425.48 59.44 L426.23 60.11 L426.99 60.80 L427.74 61.48 L428.50 62.17 L429.26 62.86 L430.02 63.56 L430.79 64.25 L431.55 64.95 L432.32 65.65 L433.09 66.35 L433.86 67.05 L434.64 67.76 L435.41 68.46 L436.19 69.16 L436.97 69.86 L437.75 70.55 L438.54 71.25 L439.32 71.94 L440.11 72.63 L440.90 73.31 L441.69 73.99 L442.48 74.66 L443.28 75.32 L444.07 75.98 L444.87 76.63 L445.67 77.28 L446.48 77.91 L447.28 78.54 L448.09 79.15 L448.90 79.75 L449.71 80.34 L450.52 80.92" fill="none" stroke="#000" stroke-width="1.5" stroke-linejoin="round"/>
<g fill="#000" stroke="#000" stroke-width="0.2">
<path d="M322.44 191.65 L325.79 198.35 L319.09 198.35Z"/>
<path d="M329.21 126.46 L332.56 133.16 L325.86 133.16Z"/>
<path d="M332.11 94.60 L335.46 101.30 L328.76 101.30Z"/>
<path d="M335.82 63.98 L339.17 70.68 L332.47 70.68Z"/>
<path d="M338.88 40.27 L342.23 46.97 L335.53 46.97Z"/>
<path d="M341.13 33.28 L344.48 39.98 L337.78 39.98Z"/>
<path d="M343.87 29.49 L347.22 36.19 L340.52 36.19Z"/>
<path d="M347.09 27.31 L350.44 34.01 L343.74 34.01Z"/>
<path d="M450.52 77.27 L453.87 83.97 L447.17 83.97Z"/>
<path d="M446.81 74.52 L450.16 81.22 L443.46 81.22Z"/>
<path d="M443.11 71.53 L446.46 78.23 L439.76 78.23Z"/>
<path d="M439.40 68.36 L442.75 75.06 L436.05 75.06Z"/>
<path d="M435.70 65.06 L439.05 71.76 L432.35 71.76Z"/>
<path d="M431.99 61.70 L435.34 68.40 L428.64 68.40Z"/>
<path d="M428.29 58.33 L431.64 65.03 L424.94 65.03Z"/>
<path d="M424.58 54.98 L427.93 61.68 L421.23 61.68Z"/>
<path d="M420.88 51.71 L424.23 58.41 L417.53 58.41Z"/>
<path d="M417.17 48.55 L420.52 55.25 L413.82 55.25Z"/>
<path d="M413.47 45.54 L416.82 52.24 L410.12 52.24Z"/>
<path d="M409.76 42.70 L413.11 49.40 L406.41 49.40Z"/>
<path d="M406.06 40.05 L409.41 46.75 L402.71 46.75Z"/>
<path d="M402.35 37.62 L405.70 44.32 L399.00 44.32Z"/>
<path d="M398.64 35.42 L401.99 42.12 L395.29 42.12Z"/>
<path d="M396.79 34.41 L400.14 41.11 L393.44 41.11Z"/>
<path d="M394.94 33.46 L398.29 40.16 L391.59 40.16Z"/>
<path d="M393.09 32.57 L396.44 39.27 L389.74 39.27Z"/>
<path d="M391.23 31.74 L394.58 38.44 L387.88 38.44Z"/>
<path d="M389.38 30.98 L392.73 37.68 L386.03 37.68Z"/>
<path d="M387.53 30.27 L390.88 36.97 L384.18 36.97Z"/>
<path d="M385.68 29.62 L389.03 36.32 L382.33 36.32Z"/>
<path d="M383.82 29.03 L387.17 35.73 L380.47 35.73Z"/>
<path d="M381.97 28.50 L385.32 35.20 L378.62 35.20Z"/>
<path d="M380.12 28.03 L383.47 34.73 L376.77 34.73Z"/>
<path d="M378.27 27.61 L381.62 34.31 L374.92 34.31Z"/>
<path d="M376.41 27.24 L379.76 33.94 L373.06 33.94Z"/>
<path d="M374.56 26.93 L377.91 33.63 L371.21 33.63Z"/>
<path d="M372.71 26.65 L376.06 33.35 L369.36 33.35Z"/>
<path d="M370.85 26.43 L374.20 33.13 L367.50 33.13Z"/>
<path d="M369.00 26.24 L372.35 32.94 L365.65 32.94Z"/>
<path d="M367.15 26.09 L370.50 32.79 L363.80 32.79Z"/>
<path d="M365.30 25.97 L368.65 32.67 L361.95 32.67Z"/>
<path d="M363.44 25.89 L366.79 32.59 L360.09 32.59Z"/>
<path d="M361.59 25.82 L364.94 32.52 L358.24 32.52Z"/>
<path d="M359.74 25.78 L363.09 32.48 L356.39 32.48Z"/>
<path d="M357.89 25.75 L361.24 32.45 L354.54 32.45Z"/>
<path d="M356.03 25.73 L359.38 32.43 L352.68 32.43Z"/>
<path d="M354.18 25.71 L357.53 32.41 L350.83 32.41Z"/>
<path d="M352.33 25.71 L355.68 32.41 L348.98 32.41Z"/>
<path d="M350.48 25.97 L353.83 32.67 L347.13 32.67Z"/>
</g>
<path d="M318.90 227.90 L322.61 185.18 L325.34 163.20 L332.92 87.14 L337.43 39.72 L346.29 24.66 L361.27 22.19 L380.12 24.91 L418.94 36.76 L456.96 56.02" fill="none" stroke="#000" stroke-width="1.5" stroke-linejoin="round"/>
<g fill="#000" stroke="#000" stroke-width="0.2">
<rect x="315.95" y="224.95" width="5.9" height="5.9"/>
<rect x="319.66" y="182.23" width="5.9" height="5.9"/>
<rect x="322.39" y="160.25" width="5.9" height="5.9"/>
<rect x="329.97" y="84.19" width="5.9" height="5.9"/>
<rect x="334.48" y="36.77" width="5.9" height="5.9"/>
<rect x="343.34" y="21.71" width="5.9" height="5.9"/>
<rect x="358.32" y="19.24" width="5.9" height="5.9"/>
<rect x="377.17" y="21.96" width="5.9" height="5.9"/>
<rect x="415.99" y="33.81" width="5.9" height="5.9"/>
<rect x="454.01" y="53.07" width="5.9" height="5.9"/>
</g>
<path d="M482 149.2 H512.6" stroke="#000" stroke-width="1.7"/>
<g fill="#000" stroke="#000" stroke-width="0.2"><text transform="translate(516.30 152.40)" font-size="9.3" textLength="28.3" lengthAdjust="spacingAndGlyphs">h=0.25</text></g>
<path d="M482 169.3 H512.6" stroke="#000" stroke-width="1.7" stroke-dasharray="6.5 5.6"/>
<g fill="#000" stroke="#000" stroke-width="0.2"><text transform="translate(516.30 172.50)" font-size="9.3" textLength="34.6" lengthAdjust="spacingAndGlyphs">h=0.125</text></g>
<path d="M482 188.9 H512.6" stroke="#000" stroke-width="1.35"/>
<g fill="#000" stroke="#000" stroke-width="0.2"><path d="M497.30 185.90 L500.40 192.10 L494.20 192.10Z"/></g>
<g fill="#000" stroke="#000" stroke-width="0.2"><text transform="translate(516.30 191.70)" font-size="9.3" textLength="34.6" lengthAdjust="spacingAndGlyphs">h=0.094</text></g>
<path d="M482 208.5 H512.6" stroke="#000" stroke-width="1.35"/>
<g fill="#000" stroke="#000" stroke-width="0.2"><rect x="494.35" y="205.95" width="5.9" height="5.9"/></g>
<g fill="#000" stroke="#000" stroke-width="0.2"><text transform="translate(516.30 211.60)" font-size="9.3" textLength="45.6" lengthAdjust="spacingAndGlyphs">Filipe et al.</text></g>
</svg>
</body></html>
